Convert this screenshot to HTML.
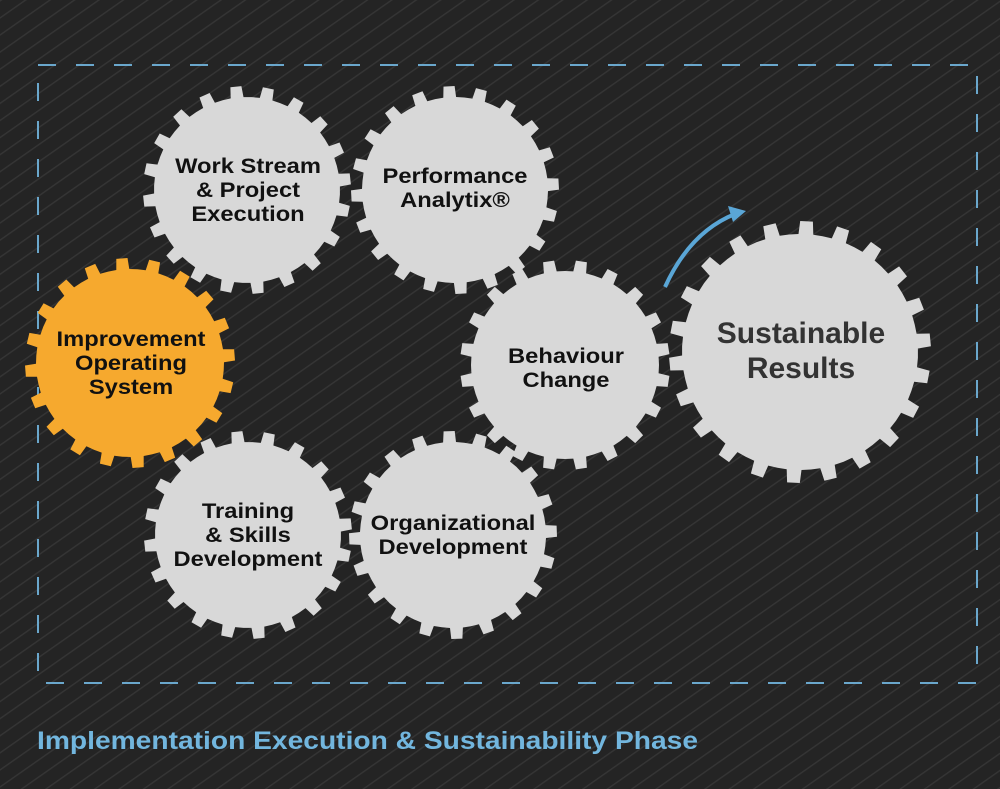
<!DOCTYPE html>
<html><head><meta charset="utf-8">
<style>
html,body{margin:0;padding:0;width:1000px;height:789px;overflow:hidden;background:#232323;}
svg{display:block}
text{font-family:"Liberation Sans",Arial,sans-serif;font-weight:bold;}
</style></head>
<body>
<svg id="s" width="1000" height="789" viewBox="0 0 1000 789" xmlns="http://www.w3.org/2000/svg">
<defs>
<pattern id="st" width="14" height="14" patternUnits="userSpaceOnUse" patternTransform="rotate(-35)">
<rect width="14" height="14" fill="#242424"/>
<rect width="14" height="1.4" fill="#353535"/>
</pattern>
</defs>
<rect width="1000" height="789" fill="url(#st)"/>
<rect x="38" y="65" width="939" height="618" fill="none" stroke="#6aa7cc" stroke-width="2" stroke-dasharray="18 20"/>
<g id="gears"></g>
<path d="M665 287 Q690 232 735 214" fill="none" stroke="#5aa6d6" stroke-width="4"/>
<polygon points="746,211 728,206 733,222" fill="#5aa6d6"/>
<g id="labels" fill="#111" font-size="21" text-anchor="middle"></g>
<g fill="#333" font-size="30" text-anchor="middle">
<text x="801" y="343">Sustainable</text><text x="801" y="378">Results</text>
</g>
<text x="37" y="749" fill="#72b6de" font-size="25" textLength="661" lengthAdjust="spacingAndGlyphs">Implementation Execution &amp; Sustainability Phase</text>
</svg>
<script>
function gear(cx,cy,R,depth,n,fill,rot){
  var r=R-depth,d="";
  for(var i=0;i<n;i++){
    var a0=(i/n)*2*Math.PI+rot, step=2*Math.PI/n;
    var pts=[[r,a0],[r,a0+step*0.28],[R,a0+step*0.33],[R,a0+step*0.67],[r,a0+step*0.72]];
    pts.forEach(function(p,j){
      var x=cx+p[0]*Math.cos(p[1]),y=cy+p[0]*Math.sin(p[1]);
      d+=(i==0&&j==0?"M":"L")+x.toFixed(1)+" "+y.toFixed(1)+" ";
    });
  }
  return '<path d="'+d+'Z" fill="'+fill+'"/>';
}
var g="";
var L="#d8d8d8";
g+=gear(247,190,104,11,20,L,0.05);
g+=gear(455,190,104,11,20,L,0.1);
g+=gear(248,535,104,11,20,L,0.05);
g+=gear(453,535,104,11,20,L,0.12);
g+=gear(565,365,105,11,20,L,0.0);
g+=gear(130,363,105,11,20,"#f6a92e",0.08);
g+=gear(800,352,131,13,22,L,0.05);
document.getElementById("gears").innerHTML=g;
var labs=[[248,173,"Work Stream"],[248,197,"&amp; Project"],[248,221,"Execution"],
[455,183,"Performance"],[455,207,"Analytix®"],
[131,346,"Improvement"],[131,370,"Operating"],[131,394,"System"],
[566,363,"Behaviour"],[566,387,"Change"],
[248,518,"Training"],[248,542,"&amp; Skills"],[248,566,"Development"],
[453,530,"Organizational"],[453,554,"Development"]];
var h="";
labs.forEach(function(l){h+='<g transform="translate('+l[0]+',0) scale(1.13,1)"><text x="0" y="'+l[1]+'">'+l[2]+'</text></g>';});
document.getElementById("labels").innerHTML=h;
</script>
</body></html>
